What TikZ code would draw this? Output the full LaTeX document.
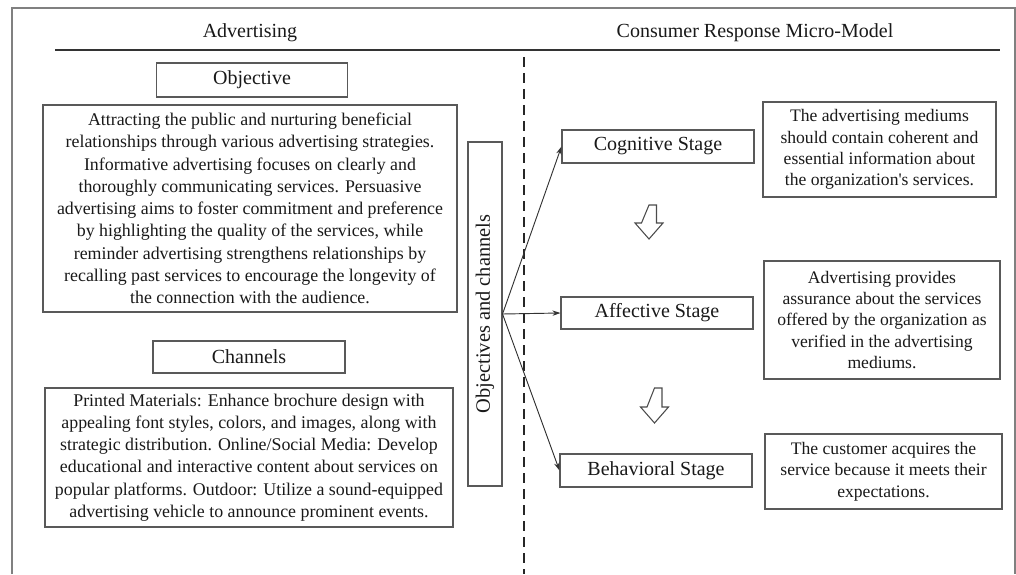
\documentclass[tikz,border=0pt]{standalone}
\usepackage{fontspec}
\setmainfont{Liberation Serif}
\usetikzlibrary{arrows.meta}

\tikzset{
  box/.style={draw=black!65, line width=0.8pt, inner sep=2pt, align=center, text=black!90},
  title/.style={box, font=\fontsize{15}{17}\selectfont},
  para/.style={box, font=\fontsize{13.4}{16.7}\selectfont},
  note/.style={box, font=\fontsize{13.2}{16}\selectfont},
  head/.style={text=black!90, font=\fontsize{15}{17}\selectfont},
  link/.style={draw=black!80, line width=0.7pt, -{Stealth[length=6pt,width=4pt]}},
  hollow/.style={draw=black!70, line width=0.8pt, line join=miter},
}

\begin{document}
\begin{tikzpicture}[x=0.75pt,y=-0.75pt]

\useasboundingbox (0,0) rectangle (1016,574);

\draw[black!50, line width=1pt] (12,574) -- (12,8) -- (1015,8) -- (1015,574);

\node[head] (adv) at (250,33) {Advertising};
\node[head] (crm) at (755,33) {Consumer Response Micro-Model};
\draw[black!80, line width=0.8pt] (55,50) -- (1000,50);
\draw[black!85, line width=1.6pt, dash pattern=on 7.5pt off 4.5pt] (524,57) -- (524,574);

\node[title, minimum width=143.25pt, minimum height=25.5pt] (obj) at (252,80) {Objective};
\node[para, minimum width=310.5pt, minimum height=155.25pt] (objtext) at (250,208.5) {Attracting the public and nurturing beneficial\\
relationships through various advertising strategies.\\
Informative advertising focuses on clearly and\\
thoroughly communicating services. Persuasive\\
advertising aims to foster commitment and preference\\
by highlighting the quality of the services, while\\
reminder advertising strengthens relationships by\\
recalling past services to encourage the longevity of\\
the connection with the audience.};

\node[title, minimum width=144pt, minimum height=24pt] (ch) at (249,357) {Channels};
\node[para, minimum width=306pt, minimum height=104.25pt] (chtext) at (249,457.5) {Printed Materials: Enhance brochure design with\\
appealing font styles, colors, and images, along with\\
strategic distribution. Online/Social Media: Develop\\
educational and interactive content about services on\\
popular platforms. Outdoor: Utilize a sound-equipped\\
advertising vehicle to announce prominent events.};

\node[title, rotate=90, minimum width=258pt, minimum height=25.5pt, font=\fontsize{15.3}{17}\selectfont] (oc) at (485,314) {Objectives and channels};

\node[title, minimum width=144pt, minimum height=24.75pt] (cog) at (658,146.5) {Cognitive Stage};
\node[title, minimum width=144pt, minimum height=24pt] (aff) at (657,313) {Affective Stage};
\node[title, minimum width=144pt, minimum height=24.75pt] (beh) at (656,470.5) {Behavioral Stage};

\draw[link] (oc.south) -- (cog.west);
\draw[link] (oc.south) -- (aff.west);
\draw[link] (oc.south) -- (beh.west);

\draw[hollow] (649,205) -- ++(7.5,0) -- ++(0,18) -- ++(6.5,0) -- ++(-14,16) -- ++(-14,-16) -- ++(6.5,0) -- cycle;
\draw[hollow] (654.5,388) -- ++(7.5,0) -- ++(0,19) -- ++(6.5,0) -- ++(-14,16) -- ++(-14,-16) -- ++(6.5,0) -- cycle;

\node[note, minimum width=174.75pt, minimum height=71.25pt] (cogtext) at (879.5,149.5) {The advertising mediums\\
should contain coherent and\\
essential information about\\
the organization\textquotesingle s services.};
\node[note, minimum width=177pt, minimum height=88.5pt] (afftext) at (882,320) {Advertising provides\\
assurance about the services\\
offered by the organization as\\
verified in the advertising\\
mediums.};
\node[note, minimum width=177.75pt, minimum height=56.25pt] (behtext) at (883.5,471.5) {The customer acquires the\\
service because it meets their\\
expectations.};

\end{tikzpicture}
\end{document}
